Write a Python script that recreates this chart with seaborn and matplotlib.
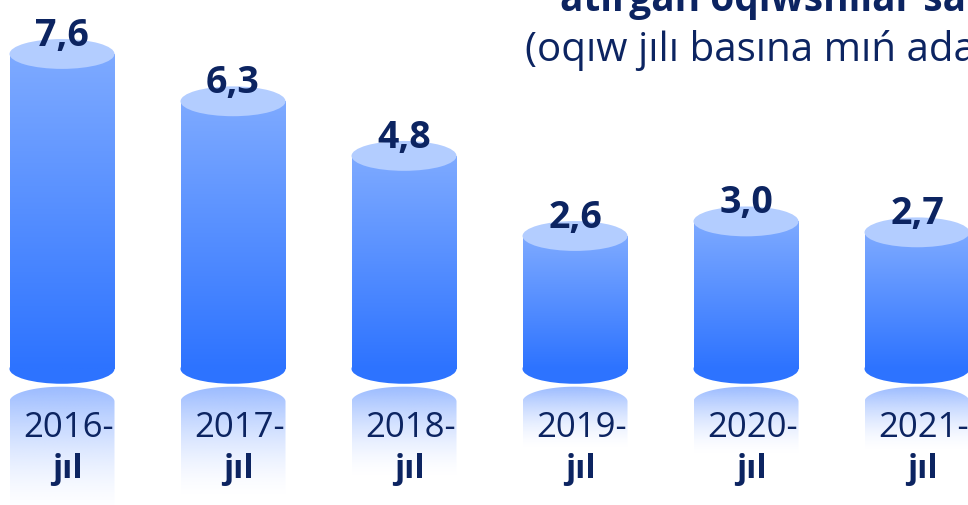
import numpy as np
import matplotlib.pyplot as plt
import seaborn as sns
from matplotlib.colors import LinearSegmentedColormap, to_rgb
from matplotlib.patches import Ellipse, PathPatch
from matplotlib.path import Path

# chart data
years = ["2016", "2017", "2018", "2019", "2020", "2021"]
values = [7.6, 6.3, 4.8, 2.6, 3.0, 2.7]
value_labels = ["7,6", "6,3", "4,8", "2,6", "3,0", "2,7"]
year_suffix = "jıl"
title_line1 = "atırgan oqıwshılar sanı"
title_line2 = "(oqıw jılı basına mıń adam)"

# styling
NAVY = "#0c2461"
CAP = "#b3cdff"
BODY_TOP = "#7eaaff"
BODY_BOTTOM = "#2d73ff"
REFLECT = "#8fb3ff"

BASE = -1.05    # common floor of the cylinders (value units)
CAP_H = 0.82    # height of the elliptic caps (value units)
GAP = 0.08      # gap between cylinder and its reflection
REFLECT_RATIO = 0.36

sns.set_style("white")
plt.rcParams["font.family"] = ["Open Sans", "DejaVu Sans"]

fig = plt.figure(figsize=(9.68, 5.06), dpi=100)
ax = fig.add_axes([0, 0, 1, 1])

heights = [v - BASE for v in values]
sns.barplot(x=years, y=heights, bottom=BASE, width=0.614, color=BODY_BOTTOM,
            ax=ax, zorder=1)

body_cmap = LinearSegmentedColormap.from_list("body", [BODY_BOTTOM, BODY_TOP])
ramp = np.linspace(0, 1, 256).reshape(-1, 1)

# reflection image: colour fixed, alpha fading downwards
refl = np.zeros((256, 1, 4))
refl[..., :3] = to_rgb(REFLECT)
refl[..., 3] = (np.linspace(0, 1, 256) ** 1.6).reshape(-1, 1) * 0.9

for i, bar in enumerate(ax.patches[:len(values)]):
    bar.set_facecolor("none")
    bar.set_edgecolor("none")
    x0 = bar.get_x()
    w = bar.get_width()
    cx = x0 + w / 2
    top = values[i]

    # bottom of the cylinder
    ax.add_patch(Ellipse((cx, BASE), w, CAP_H, fc=BODY_BOTTOM, ec="none", zorder=2))
    # body with vertical gradient
    ax.imshow(ramp, extent=[x0, x0 + w, BASE, top], origin="lower",
              aspect="auto", cmap=body_cmap, zorder=3)
    # top cap
    ax.add_patch(Ellipse((cx, top), w, CAP_H, fc=CAP, ec="none", zorder=4))

    # reflection under the cylinder
    c_r = BASE - CAP_H - GAP
    length = REFLECT_RATIO * (top - BASE)
    t = np.linspace(np.pi, 0, 80)
    xs = cx + w / 2 * np.cos(t)
    ys = c_r + CAP_H / 2 * np.sin(t)
    verts = list(zip(xs, ys)) + [(x0 + w, c_r - length), (x0, c_r - length), (xs[0], ys[0])]
    clip = PathPatch(Path(np.array(verts), closed=True), fc="none", ec="none",
                     transform=ax.transData)
    ax.add_patch(clip)
    im = ax.imshow(refl, extent=[x0, x0 + w, c_r - length, c_r + CAP_H / 2],
                   origin="lower", aspect="auto", zorder=1)
    im.set_clip_path(clip)

    # labels
    ax.text(cx, top + CAP_H / 2 + 0.12, value_labels[i], ha="center", va="center",
            fontsize=27, fontweight="bold", color=NAVY, zorder=6)
    ax.text(cx + 0.04, -2.65, years[i] + "-", ha="center", va="center",
            fontsize=25, color=NAVY, zorder=6)
    ax.text(cx + 0.03, -3.8, year_suffix, ha="center", va="center",
            fontsize=24, fontweight="bold", color=NAVY, zorder=6)

ax.set_xlim(-0.3626, 5.298)
ax.set_ylim(-4.79, 9.11)
ax.axis("off")

fig.text(560 / 968, 1 - 11 / 506, title_line1, ha="left", va="baseline",
         fontsize=28, fontweight="bold", color=NAVY)
fig.text(525 / 968, 1 - 61 / 506, title_line2, ha="left", va="baseline",
         fontsize=29, color=NAVY)

fig.savefig("out.png", dpi=100)
